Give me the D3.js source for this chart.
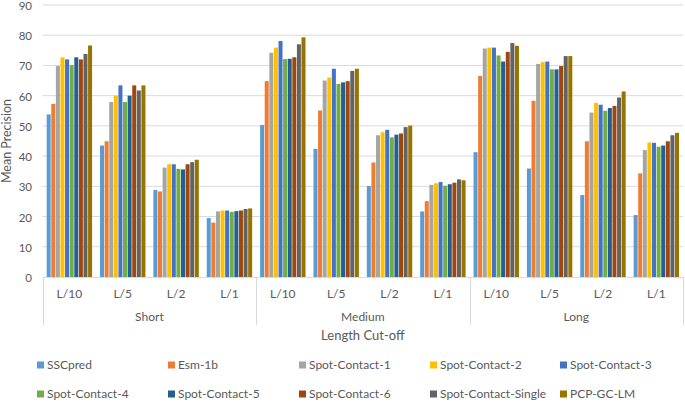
<!DOCTYPE html>
<html>
<head>
<meta charset="utf-8">
<script src="https://cdn.jsdelivr.net/npm/d3@7"></script>
<style>
  html, body { margin: 0; padding: 0; background: #fff; }
  svg { display: block; font-family: Lato, "Open Sans", sans-serif; }
  text { fill: #595959; }
</style>
</head>
<body>
<svg id="chart" width="685" height="402"></svg>
<script>
(function () {
    'use strict';

    const groups = ['Short', 'Medium', 'Long'];
    const cuts = ['L/10', 'L/5', 'L/2', 'L/1'];
    const seriesNames = ['SSCpred', 'Esm-1b', 'Spot-Contact-1', 'Spot-Contact-2', 'Spot-Contact-3',
        'Spot-Contact-4', 'Spot-Contact-5', 'Spot-Contact-6', 'Spot-Contact-Single', 'PCP-GC-LM'];
    const colors = ['#5B9BD5', '#ED7D31', '#A5A5A5', '#FFC000', '#4472C4',
        '#70AD47', '#255E91', '#9E480E', '#636363', '#997300'];
    const yTicks = [0, 10, 20, 30, 40, 50, 60, 70, 80, 90];

    // order: Short L/10..L/1, Medium L/10..L/1, Long L/10..L/1
    const sscpred = [53.8, 43.5, 28.8, 19.5, 50.3, 42.4, 30.1, 21.7, 41.3, 35.9, 27.1, 20.5];
    const esm1b = [57.3, 44.9, 28.3, 18.0, 64.8, 55.1, 37.9, 25.1, 66.5, 58.3, 44.9, 34.3];
    const spot1 = [69.8, 57.9, 36.2, 21.7, 74.2, 65.0, 46.9, 30.5, 75.6, 70.5, 54.4, 42.0];
    const spot2 = [72.7, 60.0, 37.3, 22.0, 75.9, 66.0, 47.9, 31.0, 75.9, 71.1, 57.6, 44.5];
    const spot3 = [72.0, 63.4, 37.3, 22.0, 78.1, 68.9, 48.7, 31.4, 75.9, 71.3, 57.0, 44.4];
    const spot4 = [70.1, 57.9, 35.8, 21.5, 72.1, 63.9, 46.2, 30.2, 73.3, 68.7, 55.0, 43.1];
    const spot5 = [72.7, 60.0, 35.6, 21.8, 72.2, 64.4, 47.1, 30.7, 71.3, 68.7, 55.9, 43.5];
    const spot6 = [72.0, 63.4, 37.3, 22.0, 72.7, 64.8, 47.5, 31.2, 74.5, 69.8, 56.6, 44.9];
    const spotSingle = [73.8, 61.7, 38.0, 22.5, 77.0, 68.2, 49.6, 32.3, 77.4, 73.1, 59.4, 46.9];
    const pcpgclm = [76.6, 63.4, 38.8, 22.7, 79.3, 68.9, 50.1, 32.0, 76.5, 73.1, 61.4, 47.7];

    const values = [sscpred, esm1b, spot1, spot2, spot3, spot4, spot5, spot6, spotSingle, pcpgclm];

    const margin = { top: 5, right: 2, bottom: 125, left: 42.7 };
    const width = 685;
    const height = 402;

    const svg = d3.select('#chart');

    const y = d3.scaleLinear()
        .domain([0, 90])
        .range([height - margin.bottom, margin.top]);

    const xGroup = d3.scaleBand()
        .domain(groups)
        .range([margin.left, width - margin.right]);

    const xCut = d3.scaleBand()
        .domain(cuts)
        .range([0, xGroup.bandwidth()]);

    const xSeries = d3.scaleBand()
        .domain(seriesNames)
        .range([0, xCut.bandwidth()])
        .paddingOuter(0.8);

    // gridlines
    svg.append('g')
        .selectAll('line')
        .data(yTicks.filter(d => d > 0))
        .join('line')
        .attr('x1', margin.left)
        .attr('x2', width - margin.right)
        .attr('y1', d => y(d))
        .attr('y2', d => y(d))
        .attr('stroke', '#d9d9d9')
        .attr('stroke-width', 1);

    // y labels
    svg.append('g')
        .selectAll('text')
        .data(yTicks)
        .join('text')
        .attr('x', 32)
        .attr('y', d => y(d) + 1)
        .attr('dy', '0.35em')
        .attr('text-anchor', 'end')
        .attr('font-size', 11.5)
        .text(d => d);

    svg.append('text')
        .attr('transform', `translate(11,${y(45)}) rotate(-90)`)
        .attr('text-anchor', 'middle')
        .attr('font-size', 12.5)
        .text('Mean Precision');

    // bars
    const rows = [];
    groups.forEach((g, gi) => {
        cuts.forEach((c, ci) => {
            seriesNames.forEach((s, si) => {
                rows.push({ g, c, s, si, v: values[si][gi * cuts.length + ci] });
            });
        });
    });

    svg.append('g')
        .selectAll('rect')
        .data(rows)
        .join('rect')
        .attr('x', d => xGroup(d.g) + xCut(d.c) + xSeries(d.s) + 0.3)
        .attr('width', xSeries.bandwidth() - 0.6)
        .attr('y', d => y(d.v))
        .attr('height', d => y(0) - y(d.v))
        .attr('fill', d => colors[d.si]);

    // category axis
    const axisY = y(0);
    svg.append('line')
        .attr('x1', margin.left)
        .attr('x2', width - margin.right)
        .attr('y1', axisY + 0.5)
        .attr('y2', axisY + 0.5)
        .attr('stroke', '#d9d9d9');

    const bounds = groups.map(g => xGroup(g)).concat([xGroup(groups[groups.length - 1]) + xGroup.bandwidth()]);
    svg.append('g')
        .selectAll('line')
        .data(bounds)
        .join('line')
        .attr('x1', d => Math.round(d) + 0.5)
        .attr('x2', d => Math.round(d) + 0.5)
        .attr('y1', axisY)
        .attr('y2', 325)
        .attr('stroke', '#d9d9d9');

    const cutLabels = [];
    groups.forEach(g => cuts.forEach(c => cutLabels.push({ g, c })));
    svg.append('g')
        .selectAll('text')
        .data(cutLabels)
        .join('text')
        .attr('x', d => xGroup(d.g) + xCut(d.c) + xCut.bandwidth() / 2)
        .attr('y', 294)
        .attr('dy', '0.35em')
        .attr('text-anchor', 'middle')
        .attr('font-size', 12)
        .text(d => d.c);

    svg.append('g')
        .selectAll('text')
        .data(groups)
        .join('text')
        .attr('x', d => xGroup(d) + xGroup.bandwidth() / 2)
        .attr('y', 317)
        .attr('dy', '0.35em')
        .attr('text-anchor', 'middle')
        .attr('font-size', 12)
        .text(d => d);

    svg.append('text')
        .attr('x', xGroup.range()[0] + (xGroup.range()[1] - xGroup.range()[0]) / 2)
        .attr('y', 335)
        .attr('dy', '0.35em')
        .attr('text-anchor', 'middle')
        .attr('font-size', 13)
        .text('Length Cut-off');

    // legend
    const legendX = [37, 168, 299, 430, 560];
    const legendY = [365, 394];
    const legend = svg.append('g')
        .selectAll('g')
        .data(seriesNames)
        .join('g')
        .attr('transform', (d, i) => `translate(${legendX[i % 5]},${legendY[Math.floor(i / 5)]})`);
    legend.append('rect')
        .attr('x', 0)
        .attr('y', -3.5)
        .attr('width', 7)
        .attr('height', 7)
        .attr('fill', (d, i) => colors[i]);
    legend.append('text')
        .attr('x', 10)
        .attr('y', 0)
        .attr('dy', '0.35em')
        .attr('font-size', 12)
        .text(d => d);
})();
</script>
</body>
</html>
